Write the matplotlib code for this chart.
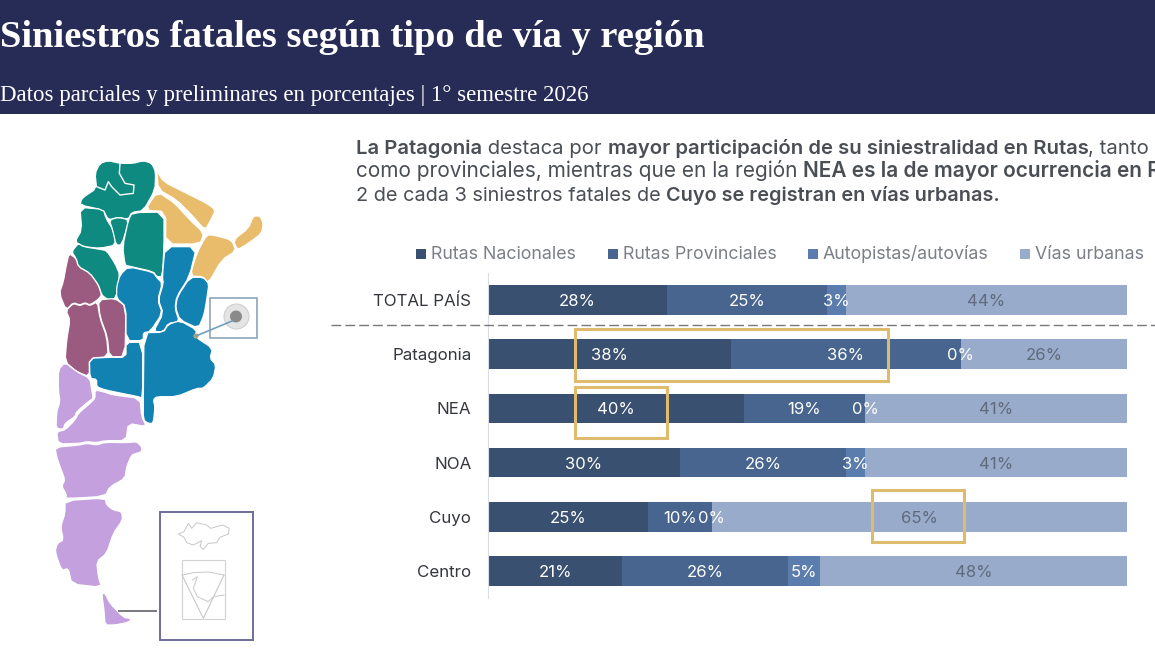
import numpy as np
import matplotlib
matplotlib.use("Agg")
import matplotlib.pyplot as plt
from matplotlib.patches import Polygon, Rectangle, Circle

plt.rcParams['font.family'] = ['Inter', 'DejaVu Sans']

# data
regiones = ["TOTAL PAÍS", "Patagonia", "NEA", "NOA", "Cuyo", "Centro"]
rutas_nacionales = [28, 38, 40, 30, 25, 21]
rutas_provinciales = [25, 36, 19, 26, 10, 26]
autopistas = [3, 0, 0, 3, 0, 5]
vias_urbanas = [44, 26, 41, 41, 65, 48]
series = ["Rutas Nacionales", "Rutas Provinciales", "Autopistas/autovías", "Vías urbanas"]
colores = ["#3A5070", "#47658F", "#5B7DAD", "#98ABCB"]

titulo = "Siniestros fatales según tipo de vía y región"
subtitulo = "Datos parciales y preliminares en porcentajes | 1° semestre 2026"
texto = [
    [("La Patagonia", True), (" destaca por ", False),
     ("mayor participación de su siniestralidad en Rutas", True), (", tanto", False)],
    [("como provinciales, mientras que en la región ", False),
     ("NEA es la de mayor ocurrencia en Rutas", True)],
    [("2 de cada 3 siniestros fatales de ", False),
     ("Cuyo se registran en vías urbanas.", True)],
]

noa = [
    [(240,225),(245,205),(290,175),(285,130),(300,100),(325,92),(360,100),(400,100),(430,92),(455,100),(467,125),
     (465,180),(430,242),(395,247),(385,268),(355,262),(325,270),(310,240)],
    [(240,232),(310,238),(318,265),(340,300),(348,345),(300,355),(250,350),(225,335),(245,300)],
    [(328,270),(355,262),(388,270),(365,345),(348,345),(338,300)],
    [(397,248),(492,246),(492,350),(487,440),(470,440),(460,425),(385,408),(375,405),(368,350),(385,270)],
    [(215,365),(235,340),(250,350),(300,358),(320,362),(345,400),(360,435),(348,505),(325,510),(305,495),(295,465),
     (270,430),(235,410),(228,385)],
]
jujuy = [(360,100),(358,130),(375,160),(402,165),(400,190),(360,195),(335,170),(325,155),(315,180),(290,170)]
cuyo = [
    [(207,370),(228,385),(235,410),(270,430),(295,465),(305,495),(295,508),(270,525),(255,518),(240,525),(220,518),
     (198,540),(178,490),(190,455),(198,410)],
    [(295,510),(345,505),(378,530),(375,680),(328,680),(322,620),(300,560)],
    [(198,542),(220,520),(240,527),(255,520),(270,527),(292,515),(300,565),(320,620),(325,680),(268,685),(268,740),
     (230,725),(195,695),(200,630),(210,570)],
]
centro = [
    [(385,410),(460,427),(470,442),(487,460),(473,510),(487,550),(450,605),(430,608),(430,632),(378,632),(378,530),
     (350,505),(350,470),(360,435)],
    [(495,350),(590,350),(568,440),(530,500),(525,535),(538,575),(505,580),(490,605),(460,605),(490,550),(475,510),
     (490,460),(487,440)],
    [(570,442),(610,442),(627,460),(620,510),(612,555),(595,595),(540,570),(527,535),(532,500)],
    [(432,608),(490,607),(505,583),(540,572),(590,600),(585,620),(638,655),(630,685),(648,705),(640,745),(610,775),
     (590,775),(530,800),(470,800),(460,810),(465,830),(460,880),(445,880),(430,870),(430,800)],
    [(268,685),(325,682),(378,682),(378,637),(428,637),(428,805),(415,800),(340,785),(310,778),(290,770),(290,748),(270,745)],
]
nea = [
    [(470,120),(490,155),(560,190),(620,220),(647,240),(630,275),(615,300),(575,255),(530,210),(475,178)],
    [(472,185),(525,220),(565,265),(612,310),(600,342),(497,342),(497,245),(435,240)],
    [(620,315),(640,315),(695,330),(708,362),(665,390),(625,460),(610,440),(570,438),(590,370)],
    [(700,330),(745,295),(760,258),(780,258),(790,280),(785,310),(745,340),(712,360)],
]
patagonia = [
    [(175,720),(195,697),(230,725),(270,745),(275,780),(280,805),(265,815),(230,845),(225,860),(195,880),(190,898),
     (168,895),(170,845),(180,815),(175,780)],
    [(285,780),(310,785),(340,795),(420,805),(425,860),(440,890),(385,880),(378,932),(315,932),(290,938),(260,935),
     (240,940),(175,942),(170,905),(195,900),(225,870),(235,850),(270,820),(285,805)],
    [(165,952),(240,945),(260,940),(290,945),(315,937),(380,938),(410,935),(425,950),(425,965),(410,970),(395,975),
     (380,1010),(375,1045),(330,1070),(315,1099),(195,1106),(200,1095),(185,1068),(195,1050),(180,1010),(170,980)],
    [(195,1112),(315,1104),(320,1125),(340,1140),(365,1145),(368,1170),(340,1210),(320,1270),(290,1295),(295,1340),
     (305,1372),(215,1362),(205,1315),(185,1322),(165,1265),(172,1240),(190,1230),(182,1190),(195,1150)],
    [(305,1390),(315,1390),(330,1420),(370,1462),(395,1466),(385,1477),(345,1485),(315,1485),(312,1440)],
]
malvinas = [(535,1212),(552,1205),(565,1180),(575,1195),(590,1178),(620,1185),(632,1195),(650,1190),(668,1185),(688,1195),
            (685,1212),(660,1222),(650,1238),(625,1240),(610,1258),(600,1250),(605,1232),(580,1245),(560,1238),(552,1222)]
antartida_sector = [(546,1335),(610,1465),(672,1335)]
antartida_arco = [(548,1335),(580,1328),(625,1326),(672,1335)]
antartida_costa = [(578,1350),(592,1340),(580,1375),(592,1400),(625,1415),(640,1400),(672,1395)]


def px(pts):
    return [(x / 3, 130 + y / 3) for x, y in pts]


# rounds the hand traced corners a little
def suave(pts, c=0.2):
    pts = np.array(px(pts))
    sig = np.roll(pts, -1, axis=0)
    a = pts * (1 - c) + sig * c
    b = pts * c + sig * (1 - c)
    return np.column_stack((a, b)).reshape(-1, 2)


fig = plt.figure(figsize=(11.55, 6.5), dpi=100, facecolor="white")

# stacked bars
ax = fig.add_axes([488 / 1155, 1 - 598 / 650, 639 / 1155, 325 / 650])
y = np.arange(len(regiones))
left = np.zeros(len(regiones))
for nombre, vals, color in zip(series, [rutas_nacionales, rutas_provinciales, autopistas, vias_urbanas], colores):
    vals = np.array(vals)
    ax.barh(y, vals, left=left, height=0.55, color=color, label=nombre)
    for yi, v, l in zip(y, vals, left):
        txt = "#5F6B7C" if nombre == "Vías urbanas" else "white"
        ax.text(l + v / 2, yi, f"{v}%", ha="center", va="center_baseline", color=txt, fontsize=12)
    left = left + vals
ax.set_xlim(0, 100)
ax.set_ylim(len(regiones) - 0.5, -0.5)
ax.set_yticks(y)
ax.set_yticklabels(regiones, fontsize=12.2, color="#33363C", va="center_baseline")
ax.set_xticks([])
ax.tick_params(axis="y", length=0, pad=12)
for s in ["top", "right", "bottom"]:
    ax.spines[s].set_visible(False)
ax.spines["left"].set_color("#DADDE2")
ax.patch.set_alpha(0)

# everything else in pixel coordinates
ov = fig.add_axes([0, 0, 1, 1], zorder=5)
ov.set_xlim(0, 1155)
ov.set_ylim(650, 0)
ov.axis("off")

ov.add_patch(Rectangle((0, 0), 1155, 114, color="#272C57", lw=0))
ov.text(0, 47, titulo, color="white", family="Liberation Serif", weight="bold", fontsize=27.7, va="baseline")
ov.text(0, 101, subtitulo, color="white", family="Liberation Serif", fontsize=16.5, va="baseline")

# paragraph with bold runs, each line sized to end where the original does
renderer = fig.canvas.get_renderer()
for linea, yy, size in zip(texto, [154, 177, 201], [14.6, 15.0, 14.3]):
    x = 356
    for frag, negrita in linea:
        t = ov.text(x, yy, frag, fontsize=size, va="baseline", color="#4A4E55",
                    weight="semibold" if negrita else "normal")
        # trailing spaces count towards the width only with a marker
        w = ov.text(0, 0, frag.replace(" ", "\u00a0"), fontsize=size, weight=t.get_weight(), alpha=0)
        x += w.get_window_extent(renderer).width
        w.remove()

# legend
for nombre, color, xs in zip(series, colores, [416, 608, 808, 1020]):
    ov.add_patch(Rectangle((xs, 249), 10, 10, color=color, lw=0))
    ov.text(xs + 15, 259, nombre, fontsize=12.8, color="#7B7F87", va="baseline")

ov.plot([331, 1160], [325, 325], color="#77797E", lw=1.0, dashes=(7, 3))

# highlights
for x0, y0, x1, y1 in [(575, 329, 888, 381), (575, 387, 667, 438), (872, 490, 964, 542)]:
    ov.add_patch(Rectangle((x0, y0), x1 - x0, y1 - y0, fill=False, ec="#DFBC6D", lw=2.2))

# map
for grupo, color in [(noa, "#0E8A80"), (cuyo, "#9B5A80"), (centro, "#1282B3"), (nea, "#E8BC6A"), (patagonia, "#C4A0DE")]:
    for poly in grupo:
        ov.add_patch(Polygon(suave(poly), closed=True, fc=color, ec="white", lw=0.9, joinstyle="round"))
ov.plot(*zip(*px(jujuy)), color="white", lw=1.0)

# CABA inset
ov.add_patch(Rectangle((210, 298), 46.5, 40, fill=False, ec="#8FA6B8", lw=1.2))
ov.add_patch(Circle((236.5, 316.5), 12.5, fc="#E4E4E4", ec="#D0D0D0", lw=0.8))
ov.add_patch(Circle((236, 316.5), 6, fc="#8A8A8A", lw=0))
ov.plot([196, 232], [336, 321], color="#6FA0BC", lw=1.2)
ov.add_patch(Circle((196, 336), 2.6, fc="#B4A878", lw=0))

# Antarctica / Malvinas inset
ov.add_patch(Rectangle((160, 511.5), 92.5, 128, fill=False, ec="#6F6C9A", lw=1.4))
ov.plot([119, 156], [610.5, 610.5], color="#77797E", lw=1.4)
ov.add_patch(Polygon(px(malvinas), closed=True, fill=False, ec="#C8C8C8", lw=0.7))
ov.add_patch(Rectangle((182, 560), 43, 59, fill=False, ec="#D2D2D2", lw=0.8))
ov.plot(*zip(*px(antartida_sector)), color="#C8C8C8", lw=0.8)
ov.plot(*zip(*px(antartida_arco)), color="#C8C8C8", lw=0.7)
ov.plot(*zip(*px(antartida_costa)), color="#C8C8C8", lw=0.7)

fig.savefig("out.png", dpi=100, facecolor="white")
